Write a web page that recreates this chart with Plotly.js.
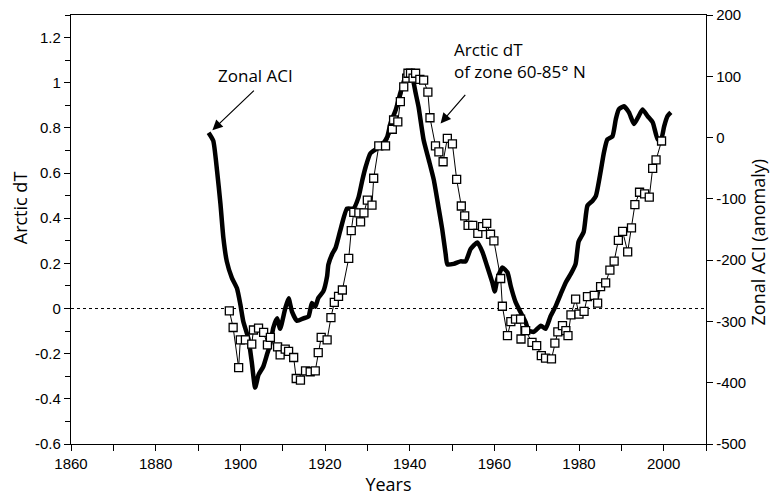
<!DOCTYPE html>
<html>
<head>
<meta charset="utf-8">
<script src="https://cdn.plot.ly/plotly-3.0.1.min.js"></script>
<style>html,body{margin:0;padding:0;background:#fff;}#chart{width:779px;height:500px;}</style>
</head>
<body>
<div id="chart"></div>
<script>
// Zonal ACI (anomaly), thick line, right axis
const aciYears = [1892.5,1893.6,1894.5,1895.3,1896.0,1896.8,1898.0,1899.2,1900.0,1900.7,1901.9,1902.7,1903.5,1904.3,1905.4,1906.3,1907.1,1907.8,1908.7,1909.4,1910.6,1911.4,1912.2,1913.4,1914.9,1916.1,1916.9,1917.7,1918.4,1919.6,1920.5,1920.8,1921.7,1922.5,1923.6,1925.2,1926.7,1927.9,1928.8,1929.6,1930.7,1932.3,1933.8,1934.7,1935.5,1936.7,1937.8,1939.0,1939.7,1940.6,1941.4,1942.1,1943.3,1944.5,1945.7,1946.8,1947.7,1948.5,1948.9,1950.4,1952.0,1953.2,1954.4,1956.0,1957.2,1958.3,1959.5,1960.1,1960.7,1961.9,1963.1,1963.9,1965.0,1966.2,1967.4,1968.1,1969.3,1971.0,1972.1,1973.3,1974.5,1975.7,1976.9,1978.1,1979.2,1979.9,1981.1,1982.0,1983.2,1984.0,1985.1,1985.9,1986.7,1987.9,1988.7,1989.4,1990.6,1991.8,1993.0,1994.1,1995.0,1996.2,1997.4,1998.6,1999.4,2000.1,2000.9,2001.7];
const aciValues = [8,-5,-54,-108,-164,-202,-229,-246,-272,-300,-328,-366,-408,-387,-374,-354,-336,-310,-295,-312,-279,-262,-284,-299,-295,-292,-270,-276,-262,-251,-226,-207,-190,-180,-152,-116,-116,-98,-70,-48,-26,-18,-9,1,24,45,73,99,105,99,73,50,-4,-36,-69,-113,-150,-190,-207,-206,-202,-202,-182,-171,-187,-210,-236,-251,-231,-212,-220,-243,-268,-285,-301,-315,-317,-307,-312,-291,-275,-255,-236,-222,-206,-170,-154,-111,-103,-95,-56,-24,-3,2,30,46,51,41,22,35,46,35,25,-3,-3,18,35,41];

// Arctic dT of zone 60-85 N, thin line with squares, left axis
const dtYears = [1897.4,1898.3,1899.6,1900.0,1901.2,1902.7,1903.1,1904.3,1905.5,1906.4,1907.1,1908.8,1909.4,1910.6,1911.4,1912.6,1913.2,1914.2,1915.4,1916.5,1917.7,1918.4,1919.1,1920.5,1921.4,1922.2,1923.2,1924.1,1925.6,1926.2,1926.8,1928.0,1928.4,1929.2,1930.0,1931.1,1931.5,1932.7,1934.3,1935.9,1936.2,1937.2,1937.8,1938.6,1939.3,1939.6,1940.2,1940.8,1941.4,1942.4,1943.3,1944.3,1944.8,1946.1,1946.9,1947.9,1948.9,1950.1,1951.1,1952.2,1953.0,1953.8,1954.9,1956.1,1957.2,1958.2,1959.1,1959.9,1961.5,1961.9,1963.1,1963.9,1965.0,1966.2,1966.3,1967.4,1968.9,1970.0,1971.1,1972.1,1973.5,1974.3,1975.0,1976.1,1976.9,1977.4,1978.1,1979.2,1980.0,1981.2,1982.0,1983.6,1984.4,1985.1,1986.3,1987.3,1988.3,1989.3,1990.3,1991.5,1992.4,1993.2,1994.3,1995.5,1996.6,1997.4,1998.2,1999.5];
const dtValues = [-0.01,-0.084,-0.262,-0.139,-0.139,-0.158,-0.095,-0.087,-0.106,-0.161,-0.128,-0.17,-0.205,-0.18,-0.19,-0.217,-0.31,-0.317,-0.276,-0.28,-0.276,-0.195,-0.128,-0.139,-0.04,0.027,0.054,0.082,0.222,0.345,0.426,0.424,0.384,0.424,0.48,0.458,0.577,0.72,0.72,0.794,0.835,0.827,0.916,0.982,1.02,1.042,1.042,1.02,1.042,1.015,1.012,0.958,0.845,0.72,0.694,0.65,0.754,0.729,0.572,0.454,0.41,0.368,0.368,0.333,0.363,0.377,0.329,0.3,0.133,0.01,-0.12,-0.058,-0.047,-0.047,-0.135,-0.098,-0.15,-0.164,-0.209,-0.22,-0.223,-0.153,-0.103,-0.076,-0.098,-0.12,-0.028,0.042,-0.025,-0.013,0.053,0.058,0.024,0.097,0.114,0.17,0.21,0.302,0.342,0.251,0.357,0.46,0.515,0.508,0.493,0.621,0.658,0.742];

// Tick labels
const xTickVals = [1860,1880,1900,1920,1940,1960,1980,2000];
const xTickText = ["1860","1880","1900","1920","1940","1960","1980","2000"];
const leftTickVals = [1.2,1,0.8,0.6,0.4,0.2,0,-0.2,-0.4,-0.6];
const leftTickText = ["1.2","1","0.8","0.6","0.4","0.2","0","-0.2","-0.4","-0.6"];
const rightTickVals = [200,100,0,-100,-200,-300,-400,-500];
const rightTickText = ["200","100","0","-100","-200","-300","-400","-500"];

const tickFont = {family: "Liberation Sans, Arial, sans-serif", size: 15, color: "#000"};
const titleFont = {family: "Open Sans, sans-serif", size: 18, color: "#000"};
const annFont = {family: "Open Sans, sans-serif", size: 17, color: "#000"};

const traces = [
  {
    x: aciYears, y: aciValues, yaxis: "y", type: "scatter", mode: "lines",
    name: "Zonal ACI", line: {color: "#000", width: 4.5, shape: "spline", smoothing: 0.5},
    showlegend: false, hoverinfo: "x+y"
  },
  {
    x: dtYears, y: dtValues, yaxis: "y2", type: "scatter", mode: "lines+markers",
    name: "Arctic dT of zone 60-85° N", line: {color: "#000", width: 1},
    marker: {symbol: "square", size: 8, color: "#fff", line: {color: "#000", width: 1.3}},
    showlegend: false, hoverinfo: "x+y"
  }
];

const layout = {
  width: 779, height: 500,
  margin: {l: 71, r: 73, t: 15, b: 56, pad: 0},
  paper_bgcolor: "#fff", plot_bgcolor: "#fff",
  showlegend: false,
  xaxis: {
    range: [1860, 2010], tickvals: xTickVals, ticktext: xTickText,
    ticks: "outside", ticklen: 6, tickwidth: 1, tickcolor: "#000",
    minor: {dtick: 10, tick0: 1870, ticks: "outside", ticklen: 6, tickcolor: "#000", showgrid: false},
    showline: true, linecolor: "#000", linewidth: 1.2, mirror: true,
    showgrid: false, zeroline: false, tickfont: tickFont,
    title: {text: "Years", font: titleFont, standoff: 4}
  },
  yaxis: {
    range: [-500, 200], side: "right", tickvals: rightTickVals, ticktext: rightTickText,
    ticks: "outside", ticklen: 6, tickcolor: "#000",
    showline: true, linecolor: "#000", linewidth: 1.2,
    showgrid: false, zeroline: false, tickfont: tickFont
  },
  yaxis2: {
    range: [-0.6, 1.3], side: "left", overlaying: "y", tickvals: leftTickVals, ticktext: leftTickText,
    ticks: "outside", ticklen: 6, tickcolor: "#000",
    minor: {dtick: 0.1, tick0: -0.6, ticks: "outside", ticklen: 5, tickcolor: "#000", showgrid: false},
    showline: true, linecolor: "#000", linewidth: 1.2,
    showgrid: false, zeroline: false, tickfont: tickFont
  },
  shapes: [
    {type: "line", xref: "paper", x0: 0, x1: 1, yref: "y2", y0: 0, y1: 0,
     line: {color: "#000", width: 1, dash: "dot"}, layer: "below"}
  ],
  annotations: [
    // axis titles (placed to match the reference's off-centre positions)
    {xref: "paper", yref: "paper", x: -0.08, y: 0.55, text: "Arctic dT", showarrow: false,
     textangle: -90, font: titleFont, xanchor: "center", yanchor: "middle"},
    {xref: "paper", yref: "paper", x: 1.082, y: 0.47, text: "Zonal ACI (anomaly)", showarrow: false,
     textangle: -90, font: titleFont, xanchor: "center", yanchor: "middle"},
    // callouts
    {xref: "paper", yref: "paper", x: 0.29, y: 0.858, text: "Zonal ACI", showarrow: false,
     font: annFont, xanchor: "center", yanchor: "middle"},
    {xref: "x", yref: "y2", x: 1893.4, y: 0.79, ax: 43, ay: -41, text: "", showarrow: true,
     arrowhead: 2, arrowsize: 1.7, arrowwidth: 1.2, arrowcolor: "#000"},
    {xref: "paper", yref: "paper", x: 0.6, y: 0.95, text: "Arctic dT<br>of zone 60-85° N", showarrow: false,
     font: annFont, xanchor: "left", yanchor: "top", align: "left"},
    {xref: "x", yref: "y2", x: 1947.3, y: 0.82, ax: 26, ay: -30, text: "", showarrow: true,
     arrowhead: 2, arrowsize: 1.7, arrowwidth: 1.2, arrowcolor: "#000"}
  ]
};

Plotly.newPlot("chart", traces, layout, {staticPlot: true, displayModeBar: false});
</script>
</body>
</html>
